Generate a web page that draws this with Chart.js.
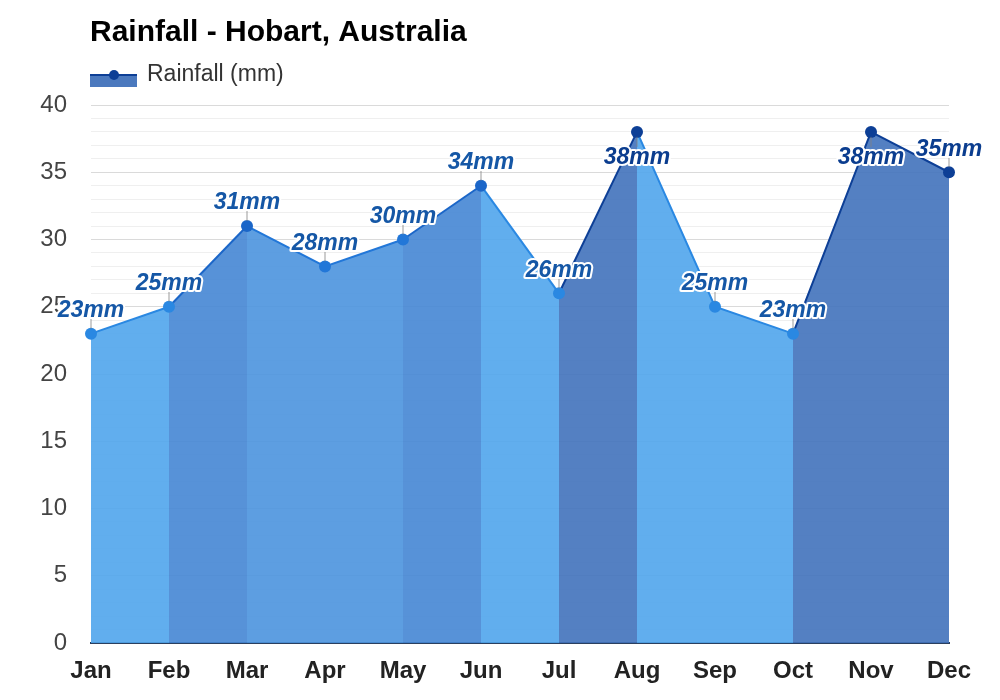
<!DOCTYPE html>
<html>
<head>
<meta charset="utf-8">
<script src="https://cdn.jsdelivr.net/npm/chart.js@4"></script>
<style>
  html, body { margin: 0; padding: 0; background: #fff; }
  #wrap { width: 1000px; height: 700px; }
</style>
</head>
<body>
<div id="wrap"><canvas id="chart"></canvas></div>
<script>
const months = ["Jan", "Feb", "Mar", "Apr", "May", "Jun", "Jul", "Aug", "Sep", "Oct", "Nov", "Dec"];
const rainfall = [23, 25, 31, 28, 30, 34, 26, 38, 25, 23, 38, 35];
const chartTitle = "Rainfall - Hobart, Australia";
const seriesName = "Rainfall (mm)";

const FONT = "'Liberation Sans', Arial, sans-serif";

// shade by amount: lighter for dry months, darker for wet ones
function fillFor(v) {
  if (v >= 35) return "rgba(65,114,187,0.9)";
  if (v >= 31) return "rgba(69,134,212,0.9)";
  if (v >= 27) return "rgba(75,148,222,0.9)";
  return "rgba(80,165,236,0.9)";
}
function lineFor(v) {
  if (v >= 35) return "#0d3f96";
  if (v >= 31) return "#1b66c8";
  if (v >= 27) return "#2277d8";
  return "#2a88e2";
}
function textFor(v) {
  return v >= 35 ? "#0b3d8f" : "#1557a6";
}

const titleLegend = {
  id: "titleLegend",
  afterDraw(chart) {
    const c = chart.ctx;
    c.save();
    c.fillStyle = "#000";
    c.font = "bold 30px " + FONT;
    c.textBaseline = "middle";
    c.fillText(chartTitle, 90, 33);

    c.fillStyle = "rgba(65,114,187,0.95)";
    c.fillRect(90, 75, 47, 12);
    c.strokeStyle = "#0d3f96";
    c.lineWidth = 2;
    c.beginPath();
    c.moveTo(90, 75);
    c.lineTo(137, 75);
    c.stroke();
    c.fillStyle = "#0d3f96";
    c.beginPath();
    c.arc(114, 75, 5, 0, Math.PI * 2);
    c.fill();

    c.fillStyle = "#333";
    c.font = "23px " + FONT;
    c.fillText(seriesName, 147, 75);
    c.restore();
  }
};

const valueLabels = {
  id: "valueLabels",
  afterDatasetsDraw(chart) {
    const c = chart.ctx;
    const meta = chart.getDatasetMeta(0);
    c.save();
    c.font = "italic bold 23px " + FONT;
    c.textAlign = "center";
    c.textBaseline = "middle";
    c.lineJoin = "round";
    meta.data.forEach((pt, i) => {
      const v = rainfall[i];
      const below = v >= 37;
      c.strokeStyle = "rgba(130,130,130,0.8)";
      c.lineWidth = 1;
      c.beginPath();
      if (below) { c.moveTo(pt.x, pt.y + 5); c.lineTo(pt.x, pt.y + 15); }
      else { c.moveTo(pt.x, pt.y - 5); c.lineTo(pt.x, pt.y - 15); }
      c.stroke();
      const ty = below ? pt.y + 26 : pt.y - 23;
      const label = v + "mm";
      c.strokeStyle = "#fff";
      c.lineWidth = 4;
      c.strokeText(label, pt.x, ty);
      c.fillStyle = textFor(v);
      c.fillText(label, pt.x, ty);
    });
    c.restore();
  }
};

new Chart(document.getElementById("chart"), {
  type: "line",
  data: {
    labels: months,
    datasets: [{
      label: seriesName,
      data: rainfall,
      fill: "origin",
      tension: 0,
      borderWidth: 2,
      pointRadius: 6,
      pointHoverRadius: 6,
      pointBorderWidth: 0,
      pointBackgroundColor: rainfall.map(lineFor),
      pointBorderColor: rainfall.map(lineFor),
      segment: {
        backgroundColor: ctx => fillFor(rainfall[ctx.p1DataIndex]),
        borderColor: ctx => lineFor(rainfall[ctx.p1DataIndex])
      }
    }]
  },
  options: {
    responsive: true,
    maintainAspectRatio: false,
    animation: false,
    layout: { padding: { top: 105, right: 51, left: 0, bottom: 0 } },
    plugins: {
      legend: { display: false },
      title: { display: false },
      tooltip: { enabled: false }
    },
    scales: {
      x: {
        offset: false,
        grid: { display: false, drawTicks: false },
        border: { display: true, color: "#2b3f5e", width: 2 },
        ticks: {
          padding: 14,
          color: "#222",
          font: { family: FONT, size: 24, weight: "bold" }
        },
        afterFit(scale) { scale.height = 57; }
      },
      y: {
        min: 0,
        max: 40,
        border: { display: false },
        grid: {
          drawTicks: false,
          color: ctx => (ctx.tick && ctx.tick.value % 5 === 0) ? "#dadada" : "#efefef",
          lineWidth: 1
        },
        ticks: {
          stepSize: 1,
          autoSkip: false,
          padding: 24,
          color: "#444",
          font: { family: FONT, size: 24 },
          callback: v => (v % 5 === 0 ? v : "")
        },
        afterFit(scale) { scale.width = 91; }
      }
    }
  },
  plugins: [titleLegend, valueLabels]
});
</script>
</body>
</html>
